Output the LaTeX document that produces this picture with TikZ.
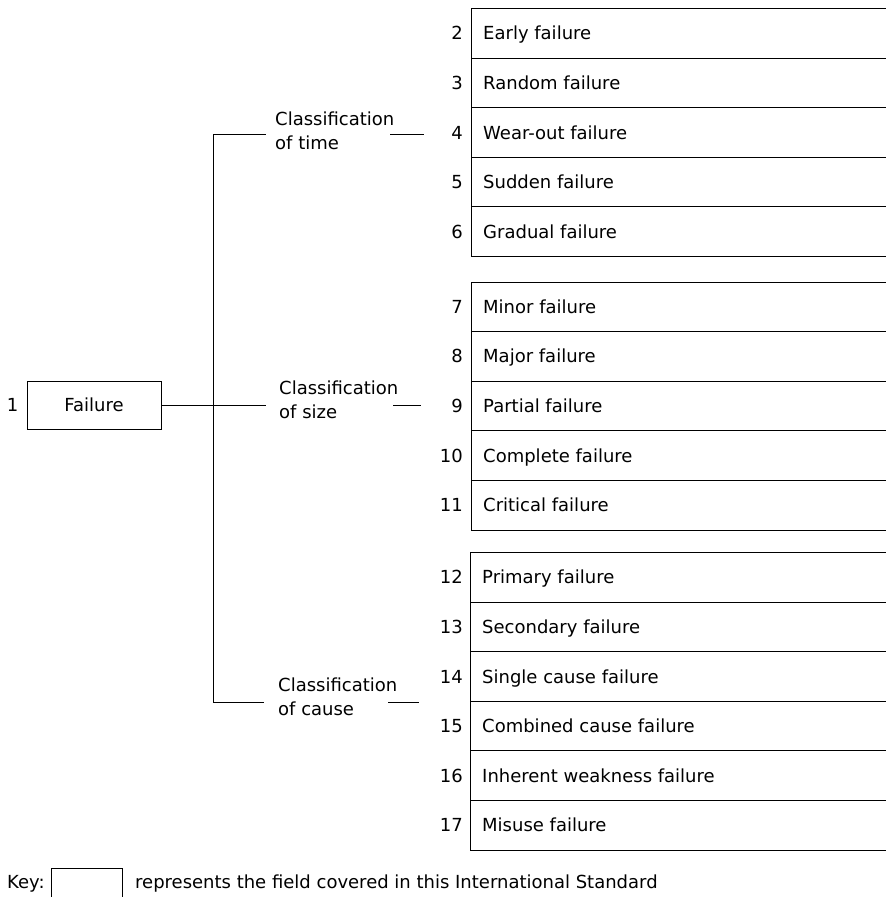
\documentclass[tikz,border=0pt]{standalone}
\usepackage{fontspec}
\setmainfont{DejaVu Sans}
\usetikzlibrary{calc}

\tikzset{
  x=1pt, y=-1pt,
  every node/.style={font=\fontsize{18}{24}\selectfont, inner sep=0pt},
  rule/.style={line width=1pt, black},
  rowbox/.style={rule, draw, rectangle, minimum width=430pt, minimum height=49.6pt, anchor=north west},
  rowtext/.style={anchor=base west},
  rownum/.style={anchor=base east},
  classlbl/.style={align=left, anchor=west},
}

\begin{document}
\begin{tikzpicture}
  \clip (0,0) rectangle (886,897);
  \fill[white] (0,0) rectangle (886,897);

  % root item
  \node[rule, draw, minimum width=134pt, minimum height=48pt] (fail) at (94,405) {Failure};
  \node[anchor=base east] (n1) at ($(fail.west)+(-8,6.5)$) {1};

  % the three classifications
  \node[classlbl] (ctime)  at (275,130.6) {Classification\\of time};
  \node[classlbl] (csize)  at (279,399.7) {Classification\\of size};
  \node[classlbl] (ccause) at (278,696.7) {Classification\\of cause};

  % spine of the tree
  \coordinate (sp1) at (213,134);
  \coordinate (sp2) at (213,405);
  \coordinate (sp3) at (213,702);
  \draw[rule] (sp1) -- (sp3);
  \draw[rule] (fail.east) -- (sp2);
  \draw[rule] (sp1) -- (266,134);
  \draw[rule] (sp2) -- (266,405);
  \draw[rule] (sp3) -- (264,702);

  % short tails after each classification
  \coordinate (tt1) at (390,134); \coordinate (tt2) at (424,134);
  \coordinate (ts1) at (393,405); \coordinate (ts2) at (421,405);
  \coordinate (tc1) at (388,702); \coordinate (tc2) at (419,702);
  \draw[rule] (tt1) -- (tt2);
  \draw[rule] (ts1) -- (ts2);
  \draw[rule] (tc1) -- (tc2);

  % classification of time
  \foreach \n/\txt [count=\i from 0] in {2/Early failure, 3/Random failure,
      4/Wear-out failure, 5/Sudden failure, 6/Gradual failure} {
    \node[rowbox] (r\n) at (471, 8+\i*49.6) {};
    \node[rownum] (n\n) at ($(r\n.west)+(-8,6.5)$) {\n};
    \node[rowtext] (t\n) at ($(r\n.west)+(12,6.5)$) {\txt};
  }

  % classification of size
  \foreach \n/\txt [count=\i from 0] in {7/Minor failure, 8/Major failure,
      9/Partial failure, 10/Complete failure, 11/Critical failure} {
    \node[rowbox] (r\n) at (471, 281.5+\i*49.6) {};
    \node[rownum] (n\n) at ($(r\n.west)+(-8,6.5)$) {\n};
    \node[rowtext] (t\n) at ($(r\n.west)+(12,6.5)$) {\txt};
  }

  % classification of cause
  \foreach \n/\txt [count=\i from 0] in {12/Primary failure, 13/Secondary failure,
      14/Single cause failure, 15/Combined cause failure,
      16/Inherent weakness failure, 17/Misuse failure} {
    \node[rowbox] (r\n) at (470, 552+\i*49.6) {};
    \node[rownum] (n\n) at ($(r\n.west)+(-7,6.5)$) {\n};
    \node[rowtext] (t\n) at ($(r\n.west)+(12,6.5)$) {\txt};
  }

  % key
  \node[anchor=base west] (keylbl) at (7,888.5) {Key:};
  \node[rule, draw, minimum width=71pt, minimum height=45pt, anchor=north west] (keybox) at (51,868) {};
  \node[anchor=base west] (keytxt) at (135,888.5) {represents the field covered in this International Standard};
\end{tikzpicture}
\end{document}
